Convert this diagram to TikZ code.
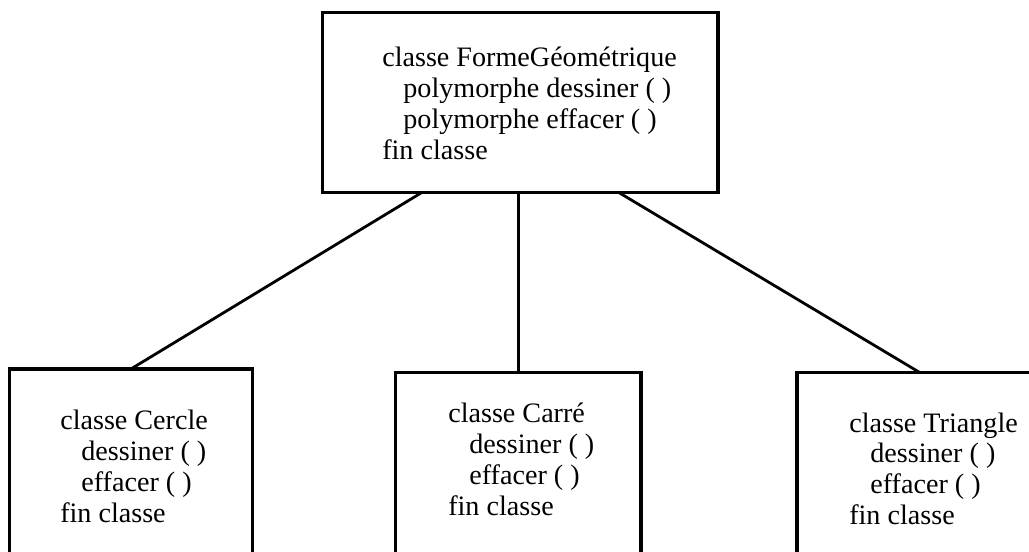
\documentclass[tikz,border=0pt]{standalone}
\usepackage{fontspec}
\setmainfont{Liberation Serif}
\newfontfamily\tnr{Liberation Serif}
\usetikzlibrary{calc}
\newcommand\myind{\hspace*{0.75em}}
\begin{document}
\begin{tikzpicture}[x=0.75pt,y=-0.75pt,
  box/.style={draw,line width=2.4pt,rectangle,inner sep=0pt,outer sep=0pt},
  link/.style={line width=2.1pt},
  txt/.style={anchor=base west,inner sep=0pt,font=\tnr\fontsize{21.1}{23.1}\selectfont}]
\useasboundingbox (0,0) rectangle (1029,552);
\clip (0,0) rectangle (1029,552);
\node[box,minimum width=296.5pt,minimum height=135pt] (top) at (520.3,102.7) {};
\node[box,minimum width=182.4pt,minimum height=173.25pt] (left) at (130.9,484.5) {};
\node[box,minimum width=184pt,minimum height=170.5pt] (mid) at (518.4,486.35) {};
\node[box,minimum width=184.5pt,minimum height=170.5pt] (right) at (920,486.35) {};
\draw[link] ($(top.south west)!0.25!(top.south east)$) -- (left.north);
\draw[link] (top.south -| mid.north) -- (mid.north);
\draw[link] ($(top.south west)!0.75!(top.south east)$) -- (right.north);
\node[txt] (ttop) at (382,66.7) {\begin{tabular}[t]{@{}l@{}}classe FormeGéométrique\\ \myind polymorphe dessiner ( )\\ \myind polymorphe effacer ( )\\ fin classe\end{tabular}};
\node[txt] (tleft) at (60,430) {\begin{tabular}[t]{@{}l@{}}classe Cercle\\ \myind dessiner ( )\\ \myind effacer ( )\\ fin classe\end{tabular}};
\node[txt] (tmid) at (448,423) {\begin{tabular}[t]{@{}l@{}}classe Carré\\ \myind dessiner ( )\\ \myind effacer ( )\\ fin classe\end{tabular}};
\node[txt] (tright) at (849,432) {\begin{tabular}[t]{@{}l@{}}classe Triangle\\ \myind dessiner ( )\\ \myind effacer ( )\\ fin classe\end{tabular}};
\end{tikzpicture}
\end{document}
